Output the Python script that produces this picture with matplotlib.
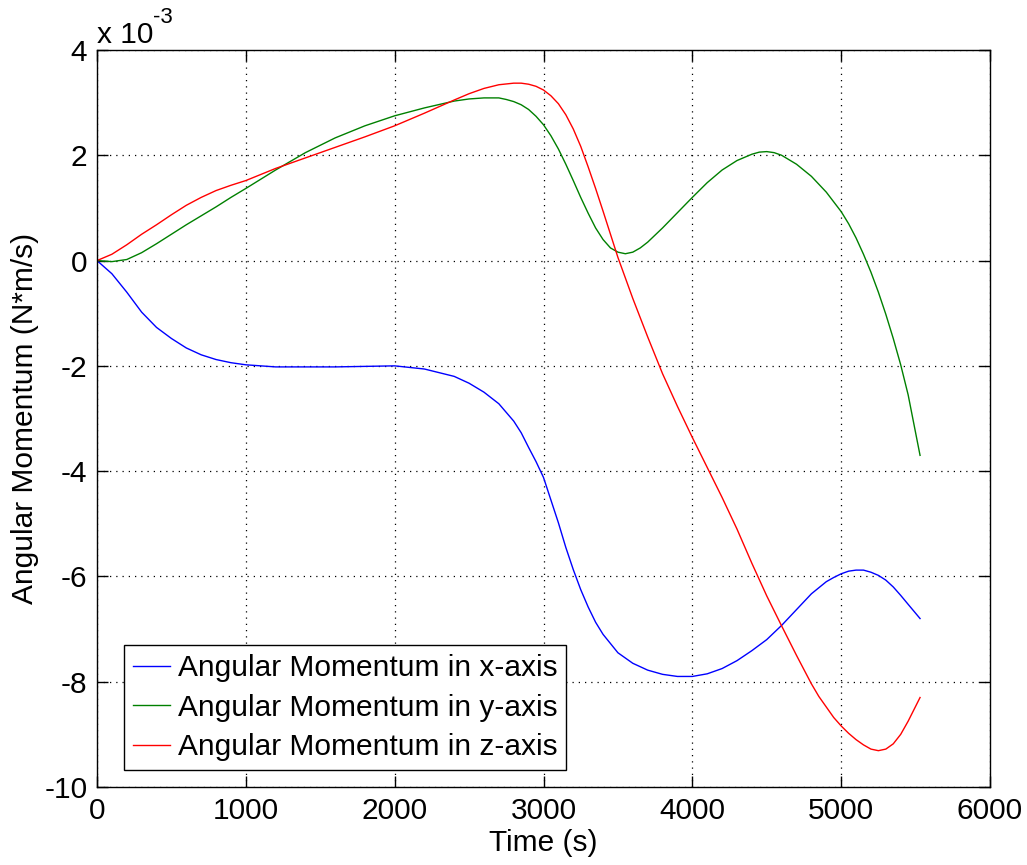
import numpy as np
import matplotlib
matplotlib.use("Agg")
from matplotlib import pyplot as plt

plt.rcParams['font.family'] = ['Liberation Sans', 'DejaVu Sans']
plt.rcParams['font.size'] = 21.5
plt.rcParams['axes.unicode_minus'] = False

# angular momentum components, values in units of 1e-3 N*m/s
t_x = [0, 100, 200, 300, 400, 500, 600, 700, 800, 900, 1000, 1200, 1600, 2000, 2200,
       2400, 2500, 2600, 2700, 2800, 2850, 2900, 2950, 3000, 3050, 3100, 3150, 3200,
       3250, 3300, 3350, 3400, 3500, 3600, 3700, 3800, 3900, 4000, 4100, 4200, 4300,
       4400, 4500, 4600, 4700, 4800, 4900, 4950, 5000, 5050, 5100, 5150, 5200, 5250,
       5300, 5350, 5400, 5450, 5530]
h_x = [0, -0.25, -0.60, -0.98, -1.27, -1.48, -1.66, -1.79, -1.88, -1.94, -1.98, -2.02,
       -2.02, -2.00, -2.06, -2.20, -2.33, -2.50, -2.72, -3.05, -3.27, -3.55, -3.82,
       -4.12, -4.55, -4.98, -5.45, -5.87, -6.25, -6.58, -6.87, -7.10, -7.45, -7.65,
       -7.78, -7.86, -7.90, -7.90, -7.85, -7.75, -7.60, -7.41, -7.20, -6.93, -6.63,
       -6.33, -6.10, -6.02, -5.95, -5.90, -5.88, -5.88, -5.92, -5.98, -6.07, -6.20,
       -6.36, -6.53, -6.80]

t_y = [0, 100, 200, 300, 400, 500, 600, 700, 800, 900, 1000, 1200, 1400, 1600, 1800,
       2000, 2200, 2400, 2500, 2600, 2700, 2750, 2800, 2850, 2900, 2950, 3000, 3050,
       3100, 3150, 3200, 3250, 3300, 3350, 3400, 3450, 3500, 3550, 3600, 3650, 3700,
       3800, 3900, 4000, 4100, 4200, 4300, 4400, 4450, 4500, 4550, 4600, 4700, 4800,
       4900, 5000, 5050, 5100, 5150, 5200, 5250, 5300, 5350, 5400, 5450, 5530]
h_y = [0, -0.02, 0.02, 0.15, 0.32, 0.50, 0.68, 0.85, 1.02, 1.20, 1.37, 1.72, 2.05,
       2.33, 2.56, 2.75, 2.90, 3.03, 3.07, 3.09, 3.09, 3.06, 3.02, 2.96, 2.87, 2.74,
       2.58, 2.37, 2.12, 1.83, 1.52, 1.20, 0.90, 0.62, 0.40, 0.24, 0.16, 0.13, 0.16,
       0.24, 0.35, 0.62, 0.91, 1.20, 1.48, 1.72, 1.90, 2.02, 2.06, 2.07, 2.05, 2.00,
       1.83, 1.60, 1.30, 0.93, 0.70, 0.43, 0.12, -0.22, -0.60, -1.02, -1.48, -1.98,
       -2.55, -3.70]

t_z = [0, 100, 200, 300, 400, 500, 600, 700, 800, 900, 1000, 1200, 1400, 1600, 1800,
       2000, 2200, 2400, 2500, 2600, 2700, 2800, 2850, 2900, 2950, 3000, 3050, 3100,
       3150, 3200, 3250, 3300, 3350, 3400, 3450, 3500, 3600, 3700, 3800, 3900, 4000,
       4100, 4200, 4300, 4400, 4500, 4600, 4700, 4800, 4850, 4900, 4950, 5000, 5050,
       5100, 5150, 5200, 5250, 5300, 5350, 5400, 5450, 5530]
h_z = [0, 0.12, 0.30, 0.50, 0.68, 0.87, 1.05, 1.20, 1.33, 1.43, 1.52, 1.75, 1.95,
       2.15, 2.35, 2.56, 2.80, 3.05, 3.17, 3.27, 3.34, 3.37, 3.37, 3.35, 3.31, 3.24,
       3.13, 2.98, 2.77, 2.50, 2.17, 1.78, 1.37, 0.94, 0.50, 0.06, -0.72, -1.45, -2.15,
       -2.77, -3.36, -3.93, -4.50, -5.10, -5.75, -6.37, -6.94, -7.50, -8.04, -8.28,
       -8.48, -8.68, -8.84, -8.98, -9.10, -9.20, -9.28, -9.31, -9.28, -9.18, -9.00,
       -8.75, -8.30]

labels = ['Angular Momentum in x-axis', 'Angular Momentum in y-axis',
          'Angular Momentum in z-axis']

W, H = 1027, 865
fig = plt.figure(figsize=(W / 100, H / 100), dpi=100)
ax = fig.add_axes([97 / W, (H - 787) / H, 893 / W, 737 / H])

ax.plot(t_x, h_x, color=(0, 0, 1), lw=1.0, label=labels[0])
ax.plot(t_y, h_y, color=(0, 0.5, 0), lw=1.0, label=labels[1])
ax.plot(t_z, h_z, color=(1, 0, 0), lw=1.0, label=labels[2])

ax.set_xlim(0, 6000)
ax.set_ylim(-10, 4)
ax.set_xticks(np.arange(0, 6001, 1000))
ax.set_yticks(np.arange(-10, 5, 2))
ax.grid(True, linestyle=(0, (1, 4)), color='k', lw=0.9)
ax.tick_params(direction='in', top=True, right=True, length=8, width=1, pad=7)
for s in ax.spines.values():
    s.set_linewidth(1.0)

ax.set_xlabel('Time (s)', labelpad=3)
ax.set_ylabel('Angular Momentum (N*m/s)', labelpad=4)

# exponent label above the y axis
fig.text(97 / W, 1 - 43 / H, 'x 10', fontsize=21.5, ha='left', va='baseline')
fig.text(153 / W, 1 - 23 / H, '-3', fontsize=16, ha='left', va='baseline')

leg = ax.legend(loc='lower left', bbox_to_anchor=(0.030, 0.023), borderaxespad=0,
                fancybox=False, framealpha=1, edgecolor='k', handlelength=1.25,
                handletextpad=0.25, labelspacing=0.38, borderpad=0.3)
leg.get_frame().set_linewidth(1.0)

fig.savefig('out.png', dpi=100)
